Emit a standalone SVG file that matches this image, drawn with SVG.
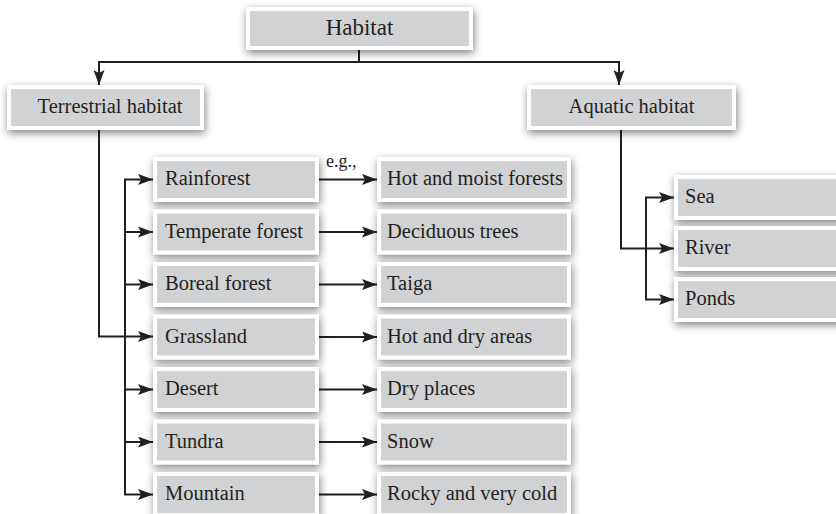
<svg xmlns="http://www.w3.org/2000/svg" width="836" height="514" viewBox="0 0 836 514">
  <defs>
    <filter id="shadow" x="-20%" y="-40%" width="140%" height="190%">
      <feGaussianBlur in="SourceAlpha" stdDeviation="4" result="blur"/>
      <feOffset in="blur" dx="1" dy="3" result="off"/>
      <feComponentTransfer in="off" result="soft">
        <feFuncA type="linear" slope="0.5"/>
      </feComponentTransfer>
      <feMerge>
        <feMergeNode in="soft"/>
        <feMergeNode in="SourceGraphic"/>
      </feMerge>
    </filter>
    <marker id="arrow" markerUnits="userSpaceOnUse" markerWidth="16" markerHeight="12" refX="15" refY="5.5" orient="auto">
      <path d="M0,0 L15,5.5 L0,11 L3,5.5 Z" fill="#231f20"/>
    </marker>
    <style>
      .box { fill: #d1d2d4; stroke: #ffffff; stroke-width: 4; filter: url(#shadow); }
      .lbl { font-family: "Liberation Serif", "Times New Roman", serif; font-size: 20.5px; fill: #231f20; }
      .title { font-size: 23px; }
      .eg { font-size: 18px; }
      .line { fill: none; stroke: #231f20; stroke-width: 2; }
      .arr { fill: none; stroke: #231f20; stroke-width: 2; marker-end: url(#arrow); }
    </style>
  </defs>
  <rect width="836" height="514" fill="#ffffff"/>

  <!-- connectors -->
  <g id="connectors">
    <path class="line" d="M359,50 V62 M99,62 H620"/>
    <path class="arr" d="M99,61 V85"/>
    <path class="arr" d="M619,61 V85"/>
    <!-- terrestrial branch -->
    <path class="arr" d="M99,130 V336.5 H153"/>
    <path class="line" d="M125,179.5 V494.5"/>
    <path class="arr" d="M124,179.5 H153"/>
    <path class="arr" d="M124,232 H153"/>
    <path class="arr" d="M124,284.5 H153"/>
    <path class="arr" d="M124,389.5 H153"/>
    <path class="arr" d="M124,442 H153"/>
    <path class="arr" d="M124,494.5 H153"/>
    <!-- examples -->
    <path class="arr" d="M319,179.5 H377"/>
    <path class="arr" d="M319,232 H377"/>
    <path class="arr" d="M319,284.5 H377"/>
    <path class="arr" d="M319,337 H377"/>
    <path class="arr" d="M319,389.5 H377"/>
    <path class="arr" d="M319,442 H377"/>
    <path class="arr" d="M319,494.5 H377"/>
    <text class="lbl eg" x="326" y="167">e.g.,</text>
    <!-- aquatic branch -->
    <path class="arr" d="M621,130 V248.5 H674"/>
    <path class="line" d="M646,197.5 V299.5"/>
    <path class="arr" d="M645,197.5 H674"/>
    <path class="arr" d="M645,299.5 H674"/>
  </g>

  <g id="habitat">
    <rect class="box" x="248" y="9" width="223" height="39"/>
    <text class="lbl title" x="359.5" y="35" text-anchor="middle">Habitat</text>
  </g>
  <g id="terrestrial">
    <rect class="box" x="9" y="87" width="193" height="41"/>
    <text class="lbl" x="110" y="113" text-anchor="middle">Terrestrial habitat</text>
  </g>
  <g id="aquatic">
    <rect class="box" x="529" y="87" width="205" height="41"/>
    <text class="lbl" x="631.5" y="113" text-anchor="middle">Aquatic habitat</text>
  </g>

  <!-- terrestrial habitats -->
  <g id="rainforest"><rect class="box" x="155" y="159" width="162" height="41"/><text class="lbl" x="165" y="185">Rainforest</text></g>
  <g id="temperate"><rect class="box" x="155" y="211.5" width="162" height="41"/><text class="lbl" x="165" y="237.5">Temperate forest</text></g>
  <g id="boreal"><rect class="box" x="155" y="264" width="162" height="41"/><text class="lbl" x="165" y="290">Boreal forest</text></g>
  <g id="grassland"><rect class="box" x="155" y="316.5" width="162" height="41"/><text class="lbl" x="165" y="342.5">Grassland</text></g>
  <g id="desert"><rect class="box" x="155" y="369" width="162" height="41"/><text class="lbl" x="165" y="395">Desert</text></g>
  <g id="tundra"><rect class="box" x="155" y="421.5" width="162" height="41"/><text class="lbl" x="165" y="447.5">Tundra</text></g>
  <g id="mountain"><rect class="box" x="155" y="474" width="162" height="41"/><text class="lbl" x="165" y="500">Mountain</text></g>

  <!-- examples -->
  <g id="ex-rainforest"><rect class="box" x="379" y="159" width="190" height="41"/><text class="lbl" x="387" y="185">Hot and moist forests</text></g>
  <g id="ex-temperate"><rect class="box" x="379" y="211.5" width="190" height="41"/><text class="lbl" x="387" y="237.5">Deciduous trees</text></g>
  <g id="ex-boreal"><rect class="box" x="379" y="264" width="190" height="41"/><text class="lbl" x="387" y="290">Taiga</text></g>
  <g id="ex-grassland"><rect class="box" x="379" y="316.5" width="190" height="41"/><text class="lbl" x="387" y="342.5">Hot and dry areas</text></g>
  <g id="ex-desert"><rect class="box" x="379" y="369" width="190" height="41"/><text class="lbl" x="387" y="395">Dry places</text></g>
  <g id="ex-tundra"><rect class="box" x="379" y="421.5" width="190" height="41"/><text class="lbl" x="387" y="447.5">Snow</text></g>
  <g id="ex-mountain"><rect class="box" x="379" y="474" width="190" height="41"/><text class="lbl" x="387" y="500">Rocky and very cold</text></g>

  <!-- aquatic habitats -->
  <g id="sea"><rect class="box" x="676" y="177" width="170" height="41"/><text class="lbl" x="685" y="203">Sea</text></g>
  <g id="river"><rect class="box" x="676" y="228" width="170" height="41"/><text class="lbl" x="685" y="254">River</text></g>
  <g id="ponds"><rect class="box" x="676" y="279" width="170" height="41"/><text class="lbl" x="685" y="305">Ponds</text></g>
</svg>
